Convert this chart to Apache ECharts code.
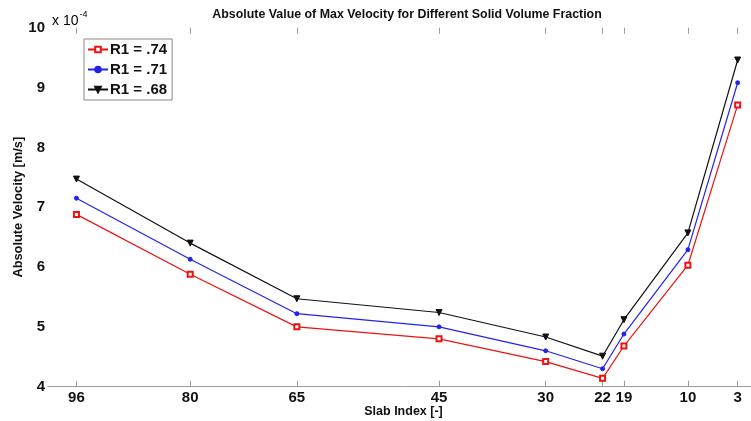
<!DOCTYPE html>
<html>
<head>
<meta charset="utf-8">
<script src="https://cdn.jsdelivr.net/npm/echarts@6/dist/echarts.min.js"></script>
<style>
  html, body { margin: 0; padding: 0; background: #fff; overflow: hidden; }
  #chart { width: 759px; height: 421px; }
</style>
</head>
<body>
<div id="chart"></div>
<script>
// slab indices (x axis runs from 100 down to 0, the right end is cut off)
const slabIndex = [96, 80, 65, 45, 30, 22, 19, 10, 3]
// velocities in units of 1e-4 m/s
const r174 = [6.88, 5.88, 5.00, 4.80, 4.42, 4.14, 4.68, 6.03, 8.71]
const r171 = [7.15, 6.13, 5.22, 5.00, 4.60, 4.30, 4.88, 6.29, 9.08]
const r168 = [7.47, 6.40, 5.47, 5.24, 4.83, 4.51, 5.12, 6.57, 9.46]
const seriesNames = ['R1 = .74', 'R1 = .71', 'R1 = .68']
const yTicks = [4, 5, 6, 7, 8, 9, 10]

const chart = echarts.init(document.getElementById('chart'))

const font = 'Liberation Sans, Arial, sans-serif'
const axisGray = '#9a9a9a'

function pairs(ys) {
  return slabIndex.map((x, i) => [x, ys[i]])
}

function makeSeries(name, ys, color, symbol, size, rotate) {
  return {
    name: name,
    type: 'line',
    data: pairs(ys),
    symbol: symbol,
    symbolSize: size,
    symbolRotate: rotate || 0,
    showAllSymbol: true,
    lineStyle: { color: color, width: 1.2 },
    itemStyle: { color: color, borderColor: color, borderWidth: 1 },
    emphasis: { disabled: true },
    z: 3
  }
}

const option = {
  animation: false,
  backgroundColor: '#fff',
  title: {
    text: 'Absolute Value of Max Velocity for Different Solid Volume Fraction',
    left: 402,
    top: 4,
    textAlign: 'center',
    textStyle: { fontFamily: font, fontSize: 12.4, fontWeight: 'bold', color: '#111' }
  },
  legend: {
    left: 84,
    top: 39,
    orient: 'vertical',
    data: seriesNames,
    itemWidth: 20,
    itemHeight: 7,
    itemGap: 5,
    padding: [3, 5, 3, 3],
    borderColor: '#888',
    borderWidth: 1,
    backgroundColor: '#fff',
    textStyle: { fontFamily: font, fontSize: 15, fontWeight: 'bold', color: '#111', padding: [0, 0, 0, -3] }
  },
  grid: { left: 48, right: 0, top: 27.7, bottom: 34.3, containLabel: false, outerBoundsMode: 'none' },
  xAxis: [
    {
      type: 'value',
      inverse: true,
      min: 0,
      max: 100,
      name: 'Slab Index [-]',
      nameLocation: 'middle',
      nameGap: 18,
      nameMoveOverlap: false,
      nameTextStyle: { fontFamily: font, fontSize: 12.5, fontWeight: 'bold', color: '#111' },
      axisLine: { show: true, lineStyle: { color: axisGray, width: 1 } },
      axisTick: { show: true, inside: true, length: 6, customValues: slabIndex, lineStyle: { color: axisGray } },
      axisLabel: {
        customValues: slabIndex,
        margin: 4,
        fontFamily: font, fontSize: 15, fontWeight: 'bold', color: '#111'
      },
      splitLine: { show: false }
    },
    {
      type: 'value',
      position: 'top',
      inverse: true,
      min: 0,
      max: 100,
      axisLine: { show: false },
      axisTick: { show: true, inside: true, length: 6, customValues: slabIndex, lineStyle: { color: axisGray } },
      axisLabel: { show: false },
      splitLine: { show: false }
    }
  ],
  yAxis: {
    type: 'value',
    min: 4,
    max: 10,
    interval: 1,
    name: 'Absolute Velocity [m/s]',
    nameLocation: 'middle',
    nameGap: 23,
    nameMoveOverlap: false,
    nameTextStyle: { fontFamily: font, fontSize: 12.8, fontWeight: 'bold', color: '#111' },
    axisLine: { show: true, lineStyle: { color: axisGray, width: 1 } },
    axisTick: { show: true, inside: true, length: 5, lineStyle: { color: axisGray } },
    axisLabel: {
      margin: 3,
      fontFamily: font, fontSize: 15, fontWeight: 'bold', color: '#111',
      formatter: v => (yTicks.includes(v) ? String(v) : '')
    },
    splitLine: { show: false }
  },
  graphic: [
    {
      type: 'text',
      left: 52,
      top: 10,
      style: {
        text: '{b|x 10}{s|-4}',
        rich: {
          b: { fontFamily: font, fontSize: 14, color: '#111', verticalAlign: 'bottom', lineHeight: 18 },
          s: { fontFamily: font, fontSize: 9, color: '#111', verticalAlign: 'top', lineHeight: 18, padding: [0, 0, 10, 1] }
        }
      }
    }
  ],
  series: [
    makeSeries(seriesNames[0], r174, '#ee1111', 'emptyRect', 5),
    makeSeries(seriesNames[1], r171, '#2222ee', 'circle', 4),
    makeSeries(seriesNames[2], r168, '#111111', 'triangle', 6, 180)
  ]
}

chart.setOption(option)
</script>
</body>
</html>
